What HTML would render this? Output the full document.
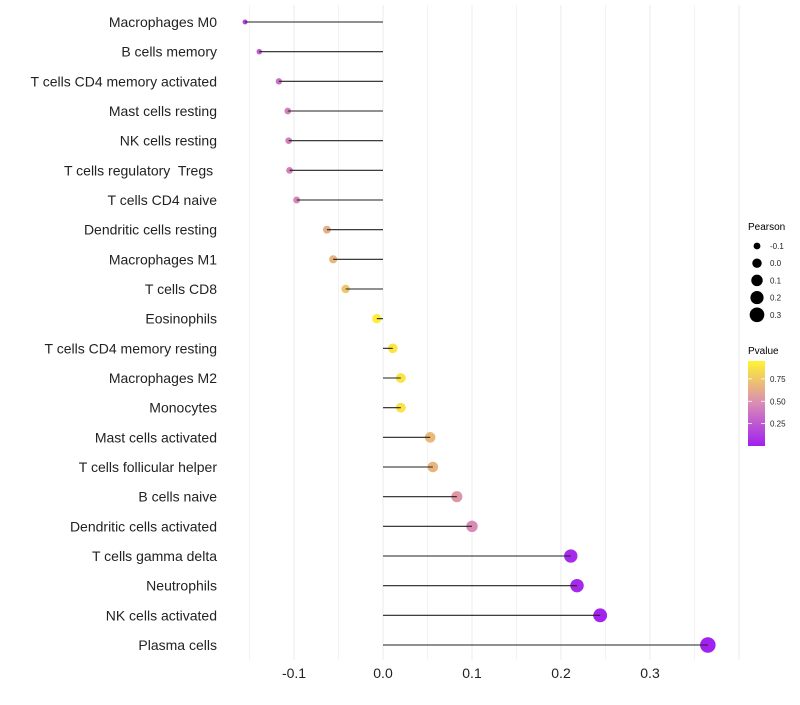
<!DOCTYPE html>
<html><head><meta charset="utf-8"><style>
body{margin:0;background:#fff;font-family:"Liberation Sans",sans-serif}
text{white-space:pre}
</style></head><body>
<svg width="800" height="700" xmlns="http://www.w3.org/2000/svg" font-family="Liberation Sans, sans-serif">
<defs><linearGradient id="pg" x1="0" y1="1" x2="0" y2="0">
<stop offset="0" stop-color="#A020F0"/><stop offset="0.5" stop-color="#D98BB5"/><stop offset="1" stop-color="#FFF430"/></linearGradient></defs>
<g id="grid"></g><g id="marks"></g><g id="labels"></g>
<g>
<text x="748" y="230" font-size="10" fill="#000">Pearson</text>
<g id="sizeLeg"></g>
</g>
<g>
<text x="748" y="354" font-size="10" fill="#000">Pvalue</text>
<rect x="748" y="361" width="17" height="85" fill="url(#pg)"/>
<g id="colLeg"></g>
</g>
</svg>
<script>
const categories=["Macrophages M0","B cells memory","T cells CD4 memory activated","Mast cells resting","NK cells resting","T cells regulatory  Tregs ","T cells CD4 naive","Dendritic cells resting","Macrophages M1","T cells CD8","Eosinophils","T cells CD4 memory resting","Macrophages M2","Monocytes","Mast cells activated","T cells follicular helper","B cells naive","Dendritic cells activated","T cells gamma delta","Neutrophils","NK cells activated","Plasma cells"];
const pearson=[-0.155,-0.139,-0.117,-0.107,-0.106,-0.105,-0.097,-0.063,-0.056,-0.042,-0.007,0.011,0.020,0.020,0.053,0.056,0.083,0.100,0.211,0.218,0.244,0.365];
const pvalue=[0.15,0.28,0.38,0.45,0.45,0.45,0.48,0.66,0.7,0.78,0.97,0.93,0.92,0.92,0.72,0.7,0.56,0.5,0.05,0.04,0.02,0.003];
const xTicks=[-0.1,0.0,0.1,0.2,0.3];
const xTickLabels=["-0.1","0.0","0.1","0.2","0.3"];
const sizeLegVals=[-0.1,0.0,0.1,0.2,0.3];
const colLegVals=[0.75,0.50,0.25];
const NS="http://www.w3.org/2000/svg";
const x=v=>383+v*890;
const y=i=>22+i*(623/21);
const r=v=>Math.sqrt(Math.max(4,6+105*(v+0.155)));
const pY=p=>446-p*89.5;
function lerp(a,b,t){return a.map((c,k)=>Math.round(c+(b[k]-c)*t));}
function col(p){const A=[160,32,240],M=[217,139,181],B=[255,244,48];
 const c=p<0.5?lerp(A,M,p/0.5):lerp(M,B,(p-0.5)/0.5);return `rgb(${c.join(',')})`;}
function mk(tag,attrs,parent){const e=document.createElementNS(NS,tag);for(const k in attrs)e.setAttribute(k,attrs[k]);parent.appendChild(e);return e;}
const grid=document.getElementById('grid'),marks=document.getElementById('marks'),labels=document.getElementById('labels');
for(let v=-0.15;v<=0.401;v+=0.05){const l=mk('line',{x1:x(v),x2:x(v),y1:5,y2:660,stroke:'#ebebeb','stroke-width':Math.abs(Math.round(v*100)%10)<1e-6?1:0.6},grid);

}
xTicks.forEach((v,i)=>{const t=mk('text',{x:x(v),y:678,'font-size':14,'text-anchor':'middle',fill:'#222'},labels);t.textContent=xTickLabels[i];

});
categories.forEach((c,i)=>{
 const t=mk('text',{x:217,y:y(i)+5,'font-size':14,'text-anchor':'end',fill:'#222'},labels);t.textContent=c;
 
 
 const pt=mk('circle',{cx:x(pearson[i]),cy:y(i),r:r(pearson[i]),fill:col(pvalue[i])},marks);
 
 
 const s=mk('line',{x1:x(0),x2:x(pearson[i]),y1:y(i),y2:y(i),stroke:'#222','stroke-width':1.1},marks);
 
 
});
const sl=document.getElementById('sizeLeg');
sizeLegVals.forEach((v,i)=>{const cy=246+i*17.2;
 const c=mk('circle',{cx:757,cy:cy,r:r(v),fill:'#000'},sl);
 
 
 const t=mk('text',{x:770,y:cy+3,'font-size':8,fill:'#222'},sl);t.textContent=v.toFixed(1);
 
 });
const cl=document.getElementById('colLeg');
colLegVals.forEach(v=>{const yy=pY(v);
 mk('line',{x1:748,x2:752,y1:yy,y2:yy,stroke:'#fff','stroke-width':0.8},cl);
 mk('line',{x1:761,x2:765,y1:yy,y2:yy,stroke:'#fff','stroke-width':0.8},cl);
 const t=mk('text',{x:770,y:yy+3,'font-size':8,fill:'#222'},cl);t.textContent=v.toFixed(2);
 
 });
</script>
</body></html>
